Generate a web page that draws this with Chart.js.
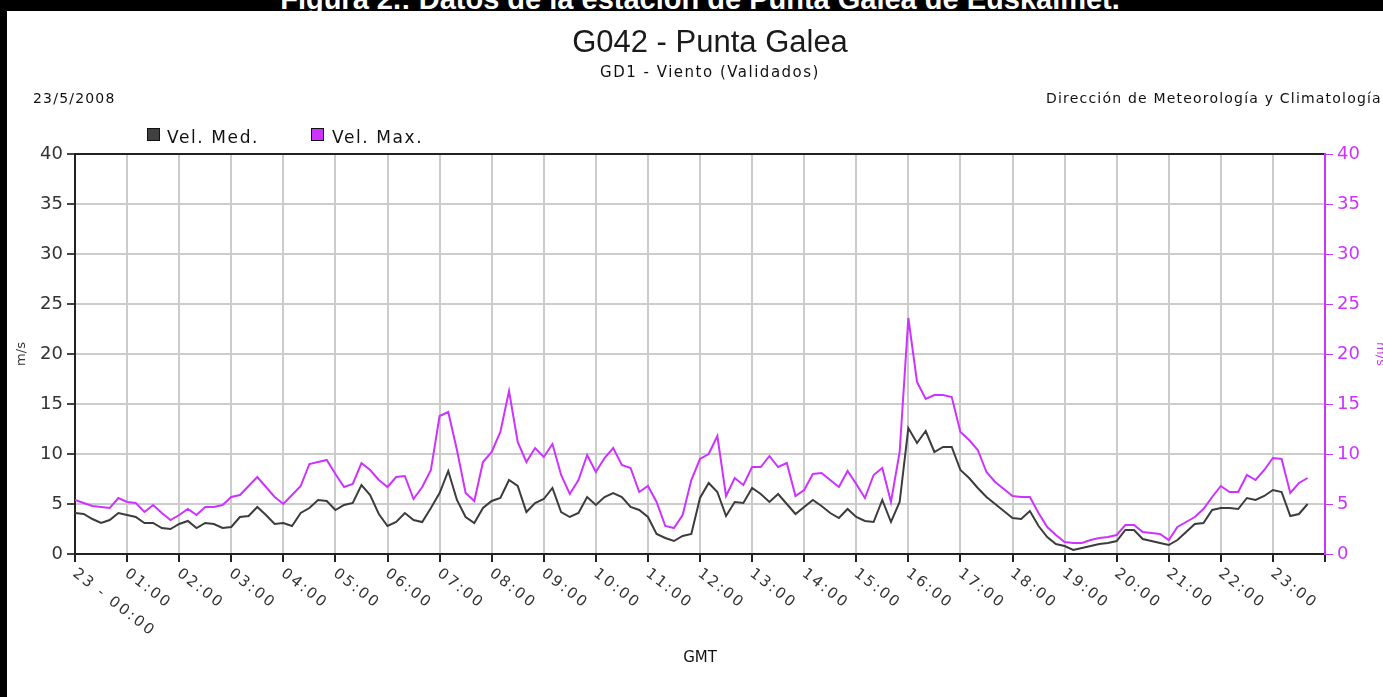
<!DOCTYPE html>
<html>
<head>
<meta charset="utf-8">
<script src="https://cdn.jsdelivr.net/npm/chart.js@4.4.1/dist/chart.umd.min.js"></script>
<style>
  html, body { margin: 0; padding: 0; background: #fff; }
  #wrap { position: relative; width: 1383px; height: 697px; overflow: hidden; background: #fff; }
  #chart { position: absolute; left: 0; top: 0; }
  .txt { position: absolute; white-space: nowrap; line-height: 1; color: #111;
         font-family: "DejaVu Sans", sans-serif; }
  #band { position: absolute; left: 0; top: 0; width: 1383px; height: 11px; background: #000; overflow: hidden; }
  #band span { position: absolute; left: 700px; top: -15px; transform: translateX(-50%);
               font: bold 29px "Liberation Sans", Arial, sans-serif; line-height: 29px; color: #fff; white-space: nowrap; }
  #strip { position: absolute; left: 0; top: 0; width: 7px; height: 697px; background: #000; }
  .box { position: absolute; width: 11px; height: 11px; border: 1px solid #111; }
</style>
</head>
<body>
<div id="wrap">
  <canvas id="chart" width="1383" height="697"></canvas>
  <div id="band"><span>Figura 2.: Datos de la estación de Punta Galea de Euskalmet.</span></div>
  <div id="strip"></div>
  <div class="txt" style="left:710px; top:26px; transform:translateX(-50%); font:31px 'Liberation Sans', Arial, sans-serif; line-height:1; color:#1a1a1a;">G042 - Punta Galea</div>
  <div class="txt" style="left:710px; top:65px; transform:translateX(-50%); font-size:15px; letter-spacing:1.5px;">GD1 - Viento (Validados)</div>
  <div class="txt" style="left:33px; top:91px; font-size:14px; letter-spacing:1.2px;">23/5/2008</div>
  <div class="txt" style="left:1046px; top:91px; font-size:14px; letter-spacing:1.2px;">Dirección de Meteorología y Climatología</div>
  <div class="box" style="left:147px; top:128px; background:#404040;"></div>
  <div class="txt" style="left:167px; top:129px; font-size:17px; letter-spacing:1.6px;">Vel. Med.</div>
  <div class="box" style="left:311px; top:128px; background:#cc33ff;"></div>
  <div class="txt" style="left:332px; top:129px; font-size:17px; letter-spacing:1.6px;">Vel. Max.</div>
</div>
<script>
// Wind speed at 10-minute intervals, starting 23/5/2008 00:00 GMT (m/s)
const STEP_MIN = 10;

const velMed = [
  4.1, 4.0, 3.5, 3.1, 3.4, 4.1, 3.9, 3.7, 3.1, 3.1, 2.6, 2.5,
  3.0, 3.3, 2.6, 3.1, 3.0, 2.6, 2.7, 3.7, 3.8, 4.7, 3.9, 3.0,
  3.1, 2.8, 4.1, 4.6, 5.4, 5.3, 4.4, 4.9, 5.1, 6.9, 5.9, 4.0,
  2.8, 3.2, 4.1, 3.4, 3.2, 4.6, 6.1, 8.3, 5.4, 3.7, 3.1, 4.6,
  5.3, 5.6, 7.4, 6.8, 4.2, 5.1, 5.5, 6.6, 4.2, 3.7, 4.1, 5.7,
  4.9, 5.7, 6.1, 5.7, 4.7, 4.4, 3.7, 2.0, 1.6, 1.3, 1.8, 2.0,
  5.6, 7.1, 6.2, 3.8, 5.2, 5.1, 6.6, 6.0, 5.2, 6.0, 5.0, 4.0,
  4.7, 5.4, 4.8, 4.1, 3.6, 4.5, 3.7, 3.3, 3.2, 5.4, 3.2, 5.2,
  12.6, 11.1, 12.3, 10.2, 10.7, 10.7, 8.4, 7.6, 6.6, 5.7, 5.0, 4.3,
  3.6, 3.5, 4.3, 2.8, 1.7, 1.0, 0.8, 0.4, 0.6, 0.8, 1.0, 1.1,
  1.3, 2.4, 2.4, 1.5, 1.3, 1.1, 0.9, 1.4, 2.2, 3.0, 3.1, 4.4,
  4.6, 4.6, 4.5, 5.6, 5.4, 5.8, 6.4, 6.2, 3.8, 4.0, 5.0
];

const velMax = [
  5.4, 5.1, 4.8, 4.7, 4.6, 5.6, 5.2, 5.1, 4.2, 4.9, 4.1, 3.4,
  3.9, 4.5, 3.9, 4.7, 4.7, 4.9, 5.7, 5.9, 6.8, 7.7, 6.7, 5.7,
  5.0, 5.9, 6.8, 9.0, 9.2, 9.4, 8.0, 6.7, 7.0, 9.1, 8.4, 7.4,
  6.7, 7.7, 7.8, 5.5, 6.7, 8.4, 13.8, 14.2, 10.4, 6.1, 5.3, 9.2,
  10.2, 12.2, 16.3, 11.2, 9.2, 10.6, 9.7, 11.0, 7.9, 6.0, 7.4, 9.9,
  8.2, 9.6, 10.6, 8.9, 8.6, 6.2, 6.8, 5.2, 2.8, 2.6, 3.9, 7.4,
  9.5, 10.0, 11.8, 5.8, 7.6, 6.9, 8.7, 8.7, 9.8, 8.7, 9.1, 5.8,
  6.4, 8.0, 8.1, 7.4, 6.7, 8.3, 7.0, 5.6, 7.9, 8.6, 5.2, 10.2,
  23.6, 17.2, 15.5, 15.9, 15.9, 15.7, 12.2, 11.4, 10.4, 8.2, 7.2, 6.5,
  5.8, 5.7, 5.7, 4.1, 2.7, 1.9, 1.2, 1.1, 1.1, 1.4, 1.6, 1.7,
  1.9, 2.9, 2.9, 2.2, 2.1, 2.0, 1.4, 2.7, 3.2, 3.7, 4.5, 5.7,
  6.8, 6.2, 6.2, 7.9, 7.4, 8.4, 9.6, 9.5, 6.1, 7.1, 7.6
];

const hourLabels = [
  '23 - 00:00', '01:00', '02:00', '03:00', '04:00', '05:00', '06:00', '07:00',
  '08:00', '09:00', '10:00', '11:00', '12:00', '13:00', '14:00', '15:00',
  '16:00', '17:00', '18:00', '19:00', '20:00', '21:00', '22:00', '23:00'
];

const seriesNames = ['Vel. Med.', 'Vel. Max.'];

const DAY_MIN = 1440;
const MED_COLOR = '#3c3c3c';
const MAX_COLOR = '#cc33ff';
const AXIS_COLOR = '#222';
const GRID_COLOR = '#cccccc';

const toPoints = arr => arr.map((v, i) => ({ x: i * STEP_MIN, y: v }));

// Hour labels under the time axis, slanting down to the right from each tick
const slantedHourLabels = {
  id: 'slantedHourLabels',
  afterDraw(chart) {
    const xs = chart.scales.x;
    const ctx = chart.ctx;
    ctx.save();
    ctx.font = '15px "DejaVu Sans", sans-serif';
    if ('letterSpacing' in ctx) ctx.letterSpacing = '2.3px';
    ctx.fillStyle = '#333';
    ctx.textAlign = 'left';
    ctx.textBaseline = 'top';
    hourLabels.forEach((label, i) => {
      const px = xs.getPixelForValue(i * 60);
      ctx.save();
      ctx.translate(px + 4, xs.top + 12);
      ctx.rotate(38 * Math.PI / 180);
      ctx.fillText(label, 0, 0);
      ctx.restore();
    });
    ctx.restore();
  }
};

new Chart(document.getElementById('chart'), {
  type: 'line',
  data: {
    datasets: [
      { label: seriesNames[0], data: toPoints(velMed), borderColor: MED_COLOR, borderWidth: 2,
        pointRadius: 0, tension: 0, yAxisID: 'y' },
      { label: seriesNames[1], data: toPoints(velMax), borderColor: MAX_COLOR, borderWidth: 2,
        pointRadius: 0, tension: 0, yAxisID: 'y' }
    ]
  },
  options: {
    responsive: false,
    animation: false,
    devicePixelRatio: 1,
    events: [],
    layout: { padding: { top: 154, left: 0, right: 0, bottom: 0 } },
    plugins: { legend: { display: false }, title: { display: false }, tooltip: { enabled: false } },
    scales: {
      x: {
        type: 'linear',
        position: 'bottom',
        min: 0,
        max: DAY_MIN,
        afterBuildTicks: s => {
          s.ticks = hourLabels.map((_, i) => ({ value: i * 60 })).concat([{ value: DAY_MIN }]);
        },
        afterFit: s => { s.height = 143; },
        ticks: { display: false },
        grid: { color: GRID_COLOR, lineWidth: 2, tickColor: AXIS_COLOR, tickLength: 8, tickWidth: 2 },
        border: { color: AXIS_COLOR, width: 2 },
        title: { display: true, text: 'GMT', color: '#111', align: 'center',
                 font: { family: 'DejaVu Sans', size: 15 }, padding: { top: 0, bottom: 30 } }
      },
      y: {
        position: 'left',
        min: 0,
        max: 40,
        afterFit: s => { s.width = 75; },
        ticks: { stepSize: 5, color: '#333', padding: 4,
                 font: { family: 'DejaVu Sans', size: 18 } },
        grid: { color: c => (c.tick && c.tick.value === 40 ? AXIS_COLOR : GRID_COLOR),
                lineWidth: 2, tickColor: '#444', tickLength: 8 },
        border: { color: AXIS_COLOR, width: 2 },
        title: { display: true, text: 'm/s', color: '#333',
                 font: { family: 'DejaVu Sans', size: 13 }, padding: { top: 14, bottom: 0 } }
      },
      y2: {
        position: 'right',
        min: 0,
        max: 40,
        afterFit: s => { s.width = 58; },
        ticks: { stepSize: 5, color: MAX_COLOR, padding: 4,
                 font: { family: 'DejaVu Sans', size: 18 } },
        grid: { drawOnChartArea: false, tickColor: MAX_COLOR, tickLength: 8 },
        border: { color: MAX_COLOR, width: 2 },
        title: { display: true, text: 'm/s', color: MAX_COLOR,
                 font: { family: 'DejaVu Sans', size: 13 }, padding: { top: -5, bottom: 0 } }
      }
    }
  },
  plugins: [slantedHourLabels]
});
</script>
</body>
</html>
